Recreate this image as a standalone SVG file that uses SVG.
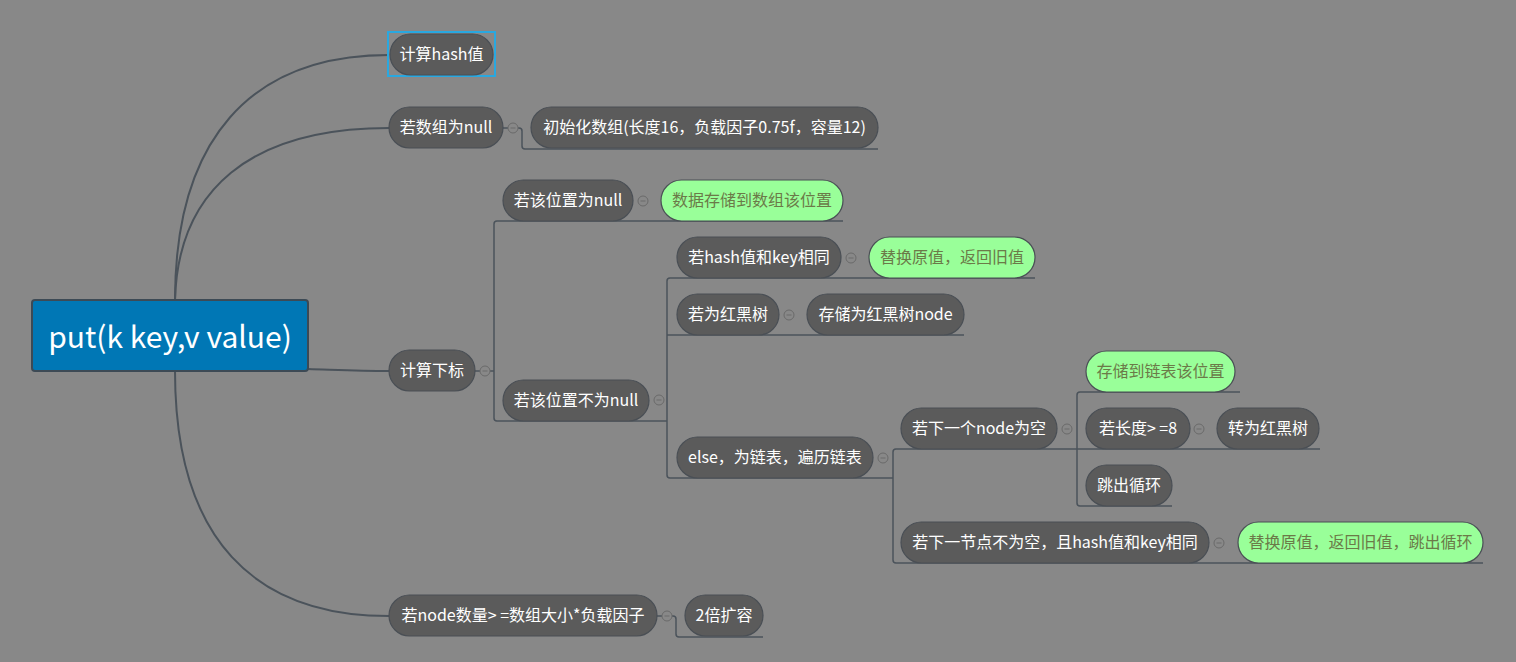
<svg xmlns="http://www.w3.org/2000/svg" width="1516" height="662" viewBox="0 0 1516 662">
<style>
.bg{fill:#888888}
.n{fill:#5b5b5b;stroke:#4a4f55;stroke-width:1.2}
.g{fill:#99ff99;stroke:#4a4f55;stroke-width:1.2}
.t{font-family:"Noto Sans CJK SC","Noto Sans",sans-serif;font-size:16px;fill:#ffffff;text-anchor:middle}
.tg{font-family:"Noto Sans CJK SC","Noto Sans",sans-serif;font-size:16px;fill:#6b7a48;text-anchor:middle}
.c{fill:none;stroke:#4b535b;stroke-width:2}
.u{fill:none;stroke:#4b535b;stroke-width:1.5}
.b{fill:none;stroke:#6a6a6a;stroke-width:1}
</style>
<defs>
<g id="btn"><circle r="5" class="b"/><line x1="-2.5" y1="0" x2="2.5" y2="0" stroke="#6a6a6a" stroke-width="1"/></g>
</defs>
<rect class="bg" x="0" y="0" width="1516" height="662"/>

<g id="connectors">
<path class="c" d="M175,300 C175,140 250,55 389,55"/>
<path class="c" d="M175,300 C178,190 250,128 389,128"/>
<path class="c" d="M308,369 C340,370 360,371 389,371"/>
<path class="c" d="M175,371 C175,540 255,616 389,616"/>
<path class="u" d="M503,128 H508 M518,128 H519 Q522,128 522,131 V146 Q522,149 525,149 H878"/>
<path class="u" d="M475,371 H480 M490,371 H494"/>
<path class="u" d="M633,221 H497 Q494,221 494,224 V418 Q494,421 497,421 H667"/>
<path class="u" d="M633,221 H843"/>
<path class="u" d="M670,278 Q667,278 667,281 V475 Q667,478 670,478 H893"/>
<path class="u" d="M670,278 H1035"/>
<path class="u" d="M667,335 H964"/>
<path class="u" d="M896,449 Q893,449 893,452 V560 Q893,563 896,563 H1483"/>
<path class="u" d="M896,449 H1320"/>
<path class="u" d="M1080,392 Q1077,392 1077,395 V503 Q1077,506 1080,506 H1172"/>
<path class="u" d="M1080,392 H1240"/>
<path class="u" d="M657,616 H662 M672,616 H673 Q676,616 676,619 V634 Q676,637 679,637 H763"/>
</g>

<g id="root">
<rect x="32" y="300" width="276" height="71" rx="3" fill="#0077b5" stroke="#3d4a55" stroke-width="2"/>
<text x="170" y="348" font-family="'Noto Sans CJK SC','Noto Sans',sans-serif" font-size="30" fill="#ffffff" text-anchor="middle">put(k key,v value)</text>
</g>

<g id="n-hash">
<rect x="388" y="32" width="107" height="44" fill="none" stroke="#29a8e0" stroke-width="2"/>
<rect class="n" x="390" y="34" width="103" height="41" rx="20.5"/>
<text class="t" x="441.5" y="60">计算hash值</text>
</g>

<g id="n-arraynull">
<rect class="n" x="389" y="107" width="114" height="41" rx="20.5"/>
<text class="t" x="446" y="133">若数组为null</text>
<use href="#btn" x="513" y="128"/>
</g>
<g id="n-init">
<rect class="n" x="531" y="107" width="347" height="41" rx="20.5"/>
<text class="t" x="704.5" y="133">初始化数组(长度16，负载因子0.75f，容量12)</text>
</g>

<g id="n-index">
<rect class="n" x="389" y="350" width="86" height="41" rx="20.5"/>
<text class="t" x="432" y="376">计算下标</text>
<use href="#btn" x="485" y="371"/>
</g>

<g id="n-posnull">
<rect class="n" x="503" y="180" width="130" height="41" rx="20.5"/>
<text class="t" x="568" y="206">若该位置为null</text>
<use href="#btn" x="643" y="201"/>
</g>
<g id="n-store-array">
<rect class="g" x="661" y="180" width="182" height="41" rx="20.5"/>
<text class="tg" x="752" y="206">数据存储到数组该位置</text>
</g>

<g id="n-posnotnull">
<rect class="n" x="503" y="380" width="146" height="41" rx="20.5"/>
<text class="t" x="576" y="406">若该位置不为null</text>
<use href="#btn" x="659" y="400"/>
</g>

<g id="n-samekey">
<rect class="n" x="677" y="237" width="164" height="41" rx="20.5"/>
<text class="t" x="759" y="263">若hash值和key相同</text>
<use href="#btn" x="851" y="258"/>
</g>
<g id="n-replace">
<rect class="g" x="869" y="237" width="166" height="41" rx="20.5"/>
<text class="tg" x="952" y="263">替换原值，返回旧值</text>
</g>

<g id="n-rbtree">
<rect class="n" x="677" y="294" width="102" height="41" rx="20.5"/>
<text class="t" x="728" y="320">若为红黑树</text>
<use href="#btn" x="789" y="315"/>
</g>
<g id="n-rbstore">
<rect class="n" x="807" y="294" width="157" height="41" rx="20.5"/>
<text class="t" x="885.5" y="320">存储为红黑树node</text>
</g>

<g id="n-else">
<rect class="n" x="677" y="437" width="196" height="41" rx="20.5"/>
<text class="t" x="775" y="463">else，为链表，遍历链表</text>
<use href="#btn" x="883" y="458"/>
</g>

<g id="n-nextnull">
<rect class="n" x="901" y="408" width="156" height="41" rx="20.5"/>
<text class="t" x="979" y="434">若下一个node为空</text>
<use href="#btn" x="1067" y="429"/>
</g>
<g id="n-store-list">
<rect class="g" x="1086" y="351" width="149" height="41" rx="20.5"/>
<text class="tg" x="1160.5" y="377">存储到链表该位置</text>
</g>
<g id="n-len8">
<rect class="n" x="1086" y="408" width="104" height="41" rx="20.5"/>
<text class="t" x="1138" y="434">若长度&gt; =8</text>
<use href="#btn" x="1199" y="429"/>
</g>
<g id="n-torb">
<rect class="n" x="1217" y="408" width="102" height="41" rx="20.5"/>
<text class="t" x="1268" y="434">转为红黑树</text>
</g>
<g id="n-break">
<rect class="n" x="1086" y="465" width="86" height="41" rx="20.5"/>
<text class="t" x="1129" y="491">跳出循环</text>
</g>

<g id="n-nextnotnull">
<rect class="n" x="901" y="522" width="308" height="41" rx="20.5"/>
<text class="t" x="1055" y="548">若下一节点不为空，且hash值和key相同</text>
<use href="#btn" x="1219" y="543"/>
</g>
<g id="n-replace-break">
<rect class="g" x="1238" y="522" width="245" height="41" rx="20.5"/>
<text class="tg" x="1360.5" y="548">替换原值，返回旧值，跳出循环</text>
</g>

<g id="n-resize">
<rect class="n" x="389" y="595" width="268" height="41" rx="20.5"/>
<text class="t" x="523" y="621">若node数量&gt; =数组大小*负载因子</text>
<use href="#btn" x="667" y="616"/>
</g>
<g id="n-double">
<rect class="n" x="685" y="595" width="78" height="41" rx="20.5"/>
<text class="t" x="724" y="621">2倍扩容</text>
</g>
</svg>
